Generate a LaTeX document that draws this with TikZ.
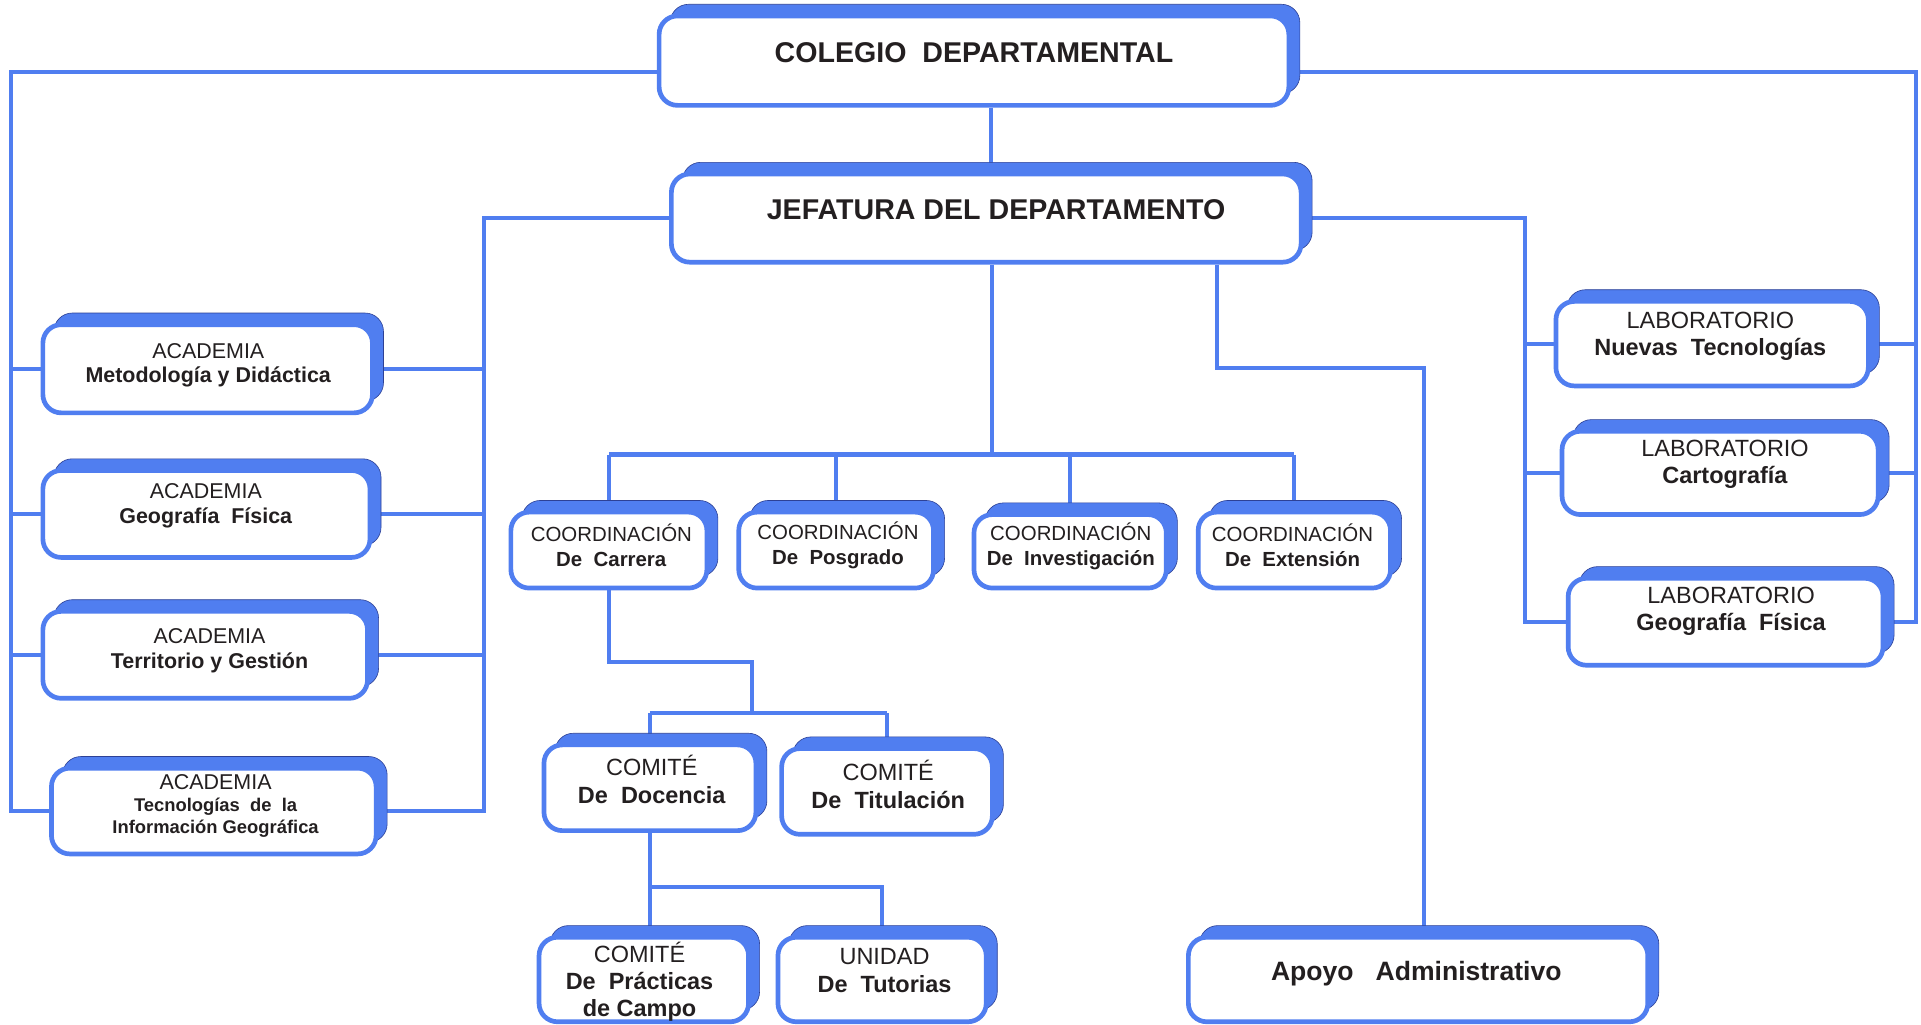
\documentclass[tikz,border=0pt]{standalone}
\usepackage{fontspec}
\setmainfont{Liberation Sans}
\usetikzlibrary{shadows,backgrounds,calc}

\definecolor{orgblue}{RGB}{80,126,240}
\definecolor{orgdark}{RGB}{45,65,150}
\definecolor{orgtext}{RGB}{35,31,32}

\tikzset{
  orgbox/.style 2 args={draw=orgblue, line width=2.3pt, fill=white, rounded corners=9pt,
    minimum width=#1*0.6pt, minimum height=#2*0.6pt, inner sep=0pt,
    general shadow={fill=orgblue, draw=orgdark, line width=0.3pt,
      shadow xshift=5.4pt, shadow yshift=5.7pt}},
  link/.style={draw=orgblue, line width=2pt},
  txt/.style={text=orgtext, align=center, inner sep=0pt},
  headtxt/.style={txt, font=\fontsize{14}{16}\selectfont\bfseries},
  acadtxt/.style={txt, font=\fontsize{10.5}{12}\selectfont},
  coordtxt/.style={txt, font=\fontsize{10}{12}\selectfont},
  comtxt/.style={txt, font=\fontsize{11.5}{13.8}\selectfont},
  labtxt/.style={txt, font=\fontsize{11.5}{13.5}\selectfont}
}

\begin{document}
\begin{tikzpicture}[x=0.6pt, y=-0.6pt]
  \useasboundingbox (0,0) rectangle (1568,836);

  % top of the chart
  \node[orgbox={514}{73}] (colegio) at (795,49.5) {};
  \node[headtxt] (colegio-t) at (795,43) {COLEGIO\ \ DEPARTAMENTAL};
  \node[orgbox={514}{72}] (jefatura) at (805,178) {};
  \node[headtxt] (jefatura-t) at (813,171) {JEFATURA DEL DEPARTAMENTO};

  % academias
  \node[orgbox={269}{72}] (acad1) at (169.5,301) {};
  \node[acadtxt] (acad1-t) at (170,298) {ACADEMIA\\\textbf{Metodología y Didáctica}};
  \node[orgbox={267}{71}] (acad2) at (168.5,419.5) {};
  \node[acadtxt] (acad2-t) at (168,413) {ACADEMIA\\\textbf{Geografía\ \ Física}};
  \node[orgbox={265}{71}] (acad3) at (167.5,534.5) {};
  \node[acadtxt] (acad3-t) at (171,531) {ACADEMIA\\\textbf{Territorio y Gestión}};
  \node[orgbox={265}{70}] (acad4) at (174.5,662) {};
  \node[acadtxt, font=\fontsize{10.5}{10.8}\selectfont] (acad4-t) at (176,658)
    {ACADEMIA\\\textbf{\fontsize{9}{10.8}\selectfont Tecnologías\ \ de\ \ la}\\
     \textbf{\fontsize{9}{10.8}\selectfont Información Geográfica}};

  % coordinaciones
  \node[orgbox={160}{62}] (coord1) at (497,449) {};
  \node[coordtxt] (coord1-t) at (499,445) {COORDINACIÓN\\\textbf{De\ \ Carrera}};
  \node[orgbox={159}{62}] (coord2) at (682.5,449) {};
  \node[coordtxt] (coord2-t) at (684,445) {COORDINACIÓN\\\textbf{De\ \ Posgrado}};
  \node[orgbox={157}{60}] (coord3) at (873.5,450) {};
  \node[coordtxt] (coord3-t) at (874,446) {COORDINACIÓN\\\textbf{De\ \ Investigación}};
  \node[orgbox={157}{62}] (coord4) at (1056.5,449) {};
  \node[coordtxt] (coord4-t) at (1055,445) {COORDINACIÓN\\\textbf{De\ \ Extensión}};

  % comites
  \node[orgbox={173}{70}] (docencia) at (530.5,643) {};
  \node[comtxt] (docencia-t) at (532,636.5) {COMITÉ\\\textbf{De\ \ Docencia}};
  \node[orgbox={172}{70}] (titulacion) at (724,646) {};
  \node[comtxt] (titulacion-t) at (725,640.5) {COMITÉ\\\textbf{De\ \ Titulación}};
  \node[orgbox={171}{69}] (practicas) at (525.5,799.5) {};
  \node[comtxt, font=\fontsize{11.5}{13.2}\selectfont] (practicas-t) at (522,801)
    {COMITÉ\\\textbf{De\ \ Prácticas}\\\textbf{de Campo}};
  \node[orgbox={170}{69}] (tutorias) at (720,799.5) {};
  \node[comtxt] (tutorias-t) at (722,792.5) {UNIDAD\\\textbf{De\ \ Tutorias}};

  \node[orgbox={375}{69}] (apoyo) at (1157.5,799.5) {};
  \node[txt, font=\fontsize{13}{15}\selectfont\bfseries] (apoyo-t) at (1156,795)
    {Apoyo\ \ \ Administrativo};

  % laboratorios
  \node[orgbox={255}{69}] (lab1) at (1397.5,280.5) {};
  \node[labtxt] (lab1-t) at (1396,274.5) {LABORATORIO\\\textbf{Nuevas\ \ Tecnologías}};
  \node[orgbox={258}{68}] (lab2) at (1404,386) {};
  \node[labtxt] (lab2-t) at (1408,379) {LABORATORIO\\\textbf{Cartografía}};
  \node[orgbox={257}{71}] (lab3) at (1408.5,507.5) {};
  \node[labtxt] (lab3-t) at (1413,499) {LABORATORIO\\\textbf{Geografía\ \ Física}};

  \begin{scope}[on background layer]
    \fill[white] (0,0) rectangle (1568,836);
    \coordinate (lbus) at (9,0);
    \coordinate (rbus) at (1564,0);
    \coordinate (jl) at (395,0);
    \coordinate (jr) at (1245,0);
    \coordinate (cbus) at (0,371);
    \coordinate (abend) at (0,300);
    \coordinate (kmid) at (614,540);
    \coordinate (kbus) at (0,582);
    \coordinate (dbus) at (0,724);

    % colegio to academias and laboratorios
    \draw[link] ([yshift=-5.7pt]colegio.west) -| (lbus |- acad4.west) -- (acad4.west);
    \foreach \n in {acad1,acad2,acad3}
      \draw[link] (lbus |- \n.west) -- (\n.west);
    \draw[link] ([yshift=-5.7pt]colegio.east) -| (rbus |- lab3.east) -- (lab3.east);
    \foreach \n in {lab1,lab2}
      \draw[link] (rbus |- \n.east) -- (\n.east);
    \draw[link] ([xshift=2.4pt]jefatura.north |- colegio.south) -- ([xshift=2.4pt]jefatura.north);

    % jefatura to academias and laboratorios
    \draw[link] (jefatura.west) -| (jl |- acad4.east) -- (acad4.east);
    \foreach \n in {acad1,acad2,acad3}
      \draw[link] (jl |- \n.east) -- (\n.east);
    \draw[link] (jefatura.east) -| (jr |- lab3.west) -- (lab3.west);
    \foreach \n in {lab1,lab2}
      \draw[link] (jr |- \n.west) -- (\n.west);

    % jefatura to coordinaciones
    \draw[link] ([xshift=3pt]jefatura.south) -- ([xshift=3pt]jefatura.south |- cbus);
    \draw[link] (coord1.north |- cbus) -- (coord4.north |- cbus);
    \foreach \n in {coord1,coord2,coord3,coord4}
      \draw[link] (\n.north |- cbus) -- (\n.north);

    % jefatura to apoyo
    \draw[link] ([xshift=112.8pt]jefatura.south) |- ([xshift=2.7pt]apoyo.north |- abend)
      -- ([xshift=2.7pt]apoyo.north);

    % carrera to comites
    \draw[link] (coord1.south) |- (kmid) -- (kmid |- kbus);
    \draw[link] (docencia.north |- kbus) -- (titulacion.north |- kbus);
    \foreach \n in {docencia,titulacion}
      \draw[link] (\n.north |- kbus) -- (\n.north);

    % docencia to practicas and tutorias
    \draw[link] (docencia.south) -- (docencia.south |- practicas.north);
    \draw[link] (docencia.south |- dbus) -- (tutorias.north |- dbus) -- (tutorias.north);
  \end{scope}
\end{tikzpicture}
\end{document}
